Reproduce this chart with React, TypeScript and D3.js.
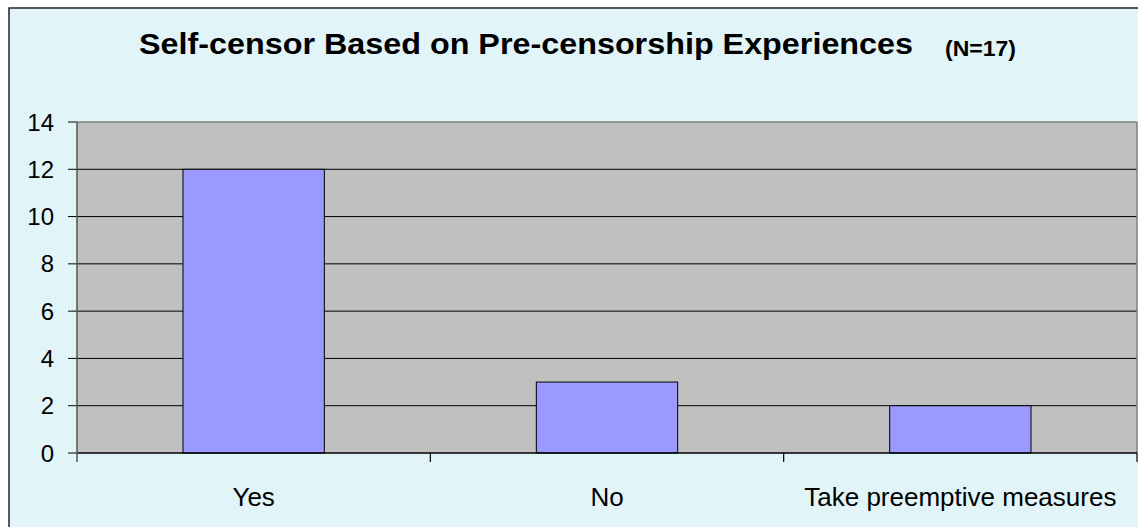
import React from "react";
import * as d3 from "d3";

const categories = ["Yes", "No", "Take preemptive measures"];
const values = [12, 3, 2];
const yTicks = [0, 2, 4, 6, 8, 10, 12, 14];
const titleText = "Self-censor Based on Pre-censorship Experiences";
const subtitleText = "(N=17)";

export default function App() {
  const W = 1138;
  const H = 527;
  const plot = { left: 77, right: 1137, top: 122, bottom: 453 };

  const x = d3
    .scaleBand<string>()
    .domain(categories)
    .range([plot.left, plot.right])
    .paddingInner(0.6)
    .paddingOuter(0.3);
  const y = d3.scaleLinear().domain([0, 14]).range([plot.bottom, plot.top]);
  const step = x.step();
  const boundaries = d3.range(categories.length + 1).map((i) => plot.left + i * step);

  return (
    <svg
      width={W}
      height={H}
      style={{ position: "absolute", left: 0, top: 0 }}
      fontFamily="'Liberation Sans', Arial, sans-serif"
    >
      <rect x={0} y={0} width={W} height={H} fill="#ffffff" />
      <rect x={9} y={8} width={W + 20} height={H + 20} fill="#E1F4F7" stroke="#222" strokeWidth={1.5} />

      <text x={139} y={54} fontSize={30} fontWeight="bold" fill="#000" textLength={774} lengthAdjust="spacingAndGlyphs">
        {titleText}
      </text>
      <text x={945} y={56} fontSize={22} fontWeight="bold" fill="#000" textLength={71} lengthAdjust="spacingAndGlyphs">
        {subtitleText}
      </text>

      <rect x={plot.left} y={plot.top} width={plot.right - plot.left} height={plot.bottom - plot.top} fill="#C0C0C0" />

      {yTicks.map((t) => (
        <g key={t}>
          {t > 0 && t < 14 && (
            <line x1={plot.left} x2={plot.right} y1={y(t)} y2={y(t)} stroke="#000" strokeWidth={1} />
          )}
          <line x1={68} x2={plot.left} y1={y(t)} y2={y(t)} stroke="#000" strokeWidth={1} />
          <text x={54} y={y(t)} dy="0.36em" fontSize={24} textAnchor="end" fill="#000">
            {t}
          </text>
        </g>
      ))}

      <line x1={plot.left} x2={plot.right} y1={plot.top} y2={plot.top} stroke="#808080" strokeWidth={1.5} />
      <line x1={plot.right} x2={plot.right} y1={plot.top} y2={plot.bottom} stroke="#808080" strokeWidth={1.5} />

      {categories.map((c, i) => (
        <rect
          key={c}
          x={x(c)}
          y={y(values[i])}
          width={x.bandwidth()}
          height={y(0) - y(values[i])}
          fill="#9999FF"
          stroke="#000"
          strokeWidth={1}
        />
      ))}

      <line x1={plot.left} x2={plot.right} y1={plot.bottom} y2={plot.bottom} stroke="#000" strokeWidth={1.5} />
      <line x1={plot.left} x2={plot.left} y1={plot.top} y2={plot.bottom + 9} stroke="#555" strokeWidth={1.5} />
      {boundaries.slice(1).map((bx, i) => (
        <line key={i} x1={bx} x2={bx} y1={plot.bottom} y2={plot.bottom + 9} stroke="#000" strokeWidth={1.2} />
      ))}

      {categories.map((c) => (
        <text key={c} x={(x(c) as number) + x.bandwidth() / 2} y={506} fontSize={26} textAnchor="middle" fill="#000">
          {c}
        </text>
      ))}
    </svg>
  );
}
